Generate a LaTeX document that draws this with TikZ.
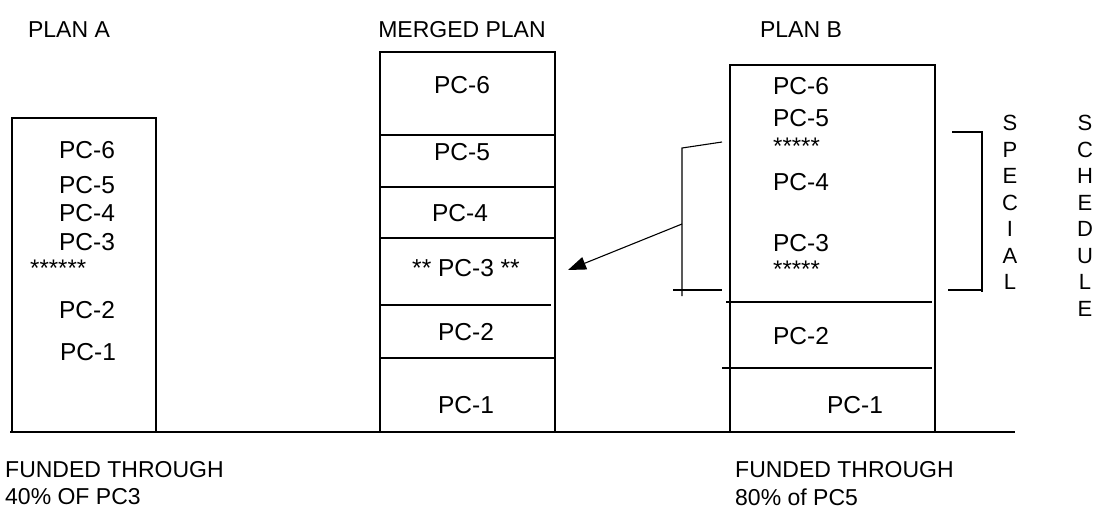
\documentclass[tikz,border=0pt]{standalone}
\usepackage{fontspec}
\setmainfont{Liberation Sans}
\usetikzlibrary{arrows.meta,positioning}

\begin{document}
\begin{tikzpicture}[
x=1pt, y=-1pt,
lbl/.style={font=\fontsize{24.5}{28}\selectfont, inner sep=0pt},
note/.style={font=\fontsize{23}{27}\selectfont, inner sep=0pt, anchor=west},
stars/.style={font=\fontsize{24}{27}\selectfont, inner sep=0pt, anchor=north west},
vert/.style={font=\fontsize{22}{26.5}\selectfont, inner sep=0pt, align=center, anchor=north},
frame/.style={line width=1.1pt},
arrow/.style={-{Triangle[length=18pt,width=13pt]}, line width=1.1pt}
]
\useasboundingbox (0,0) rectangle (1100,515);

% titles
\node[note, anchor=center] (titleA) at (69,30) {PLAN A};
\node[note, anchor=center] (titleM) at (462,30) {MERGED PLAN};
\node[note, anchor=center] (titleB) at (801,30) {PLAN B};

% ground line
\draw[frame] (10,432) -- (1015,432);

% plan A
\draw[frame] (12,432) -- (12,118) -- (156,118) -- (156,432);
\node[lbl] (a6) at (87,150) {PC-6};
\node[lbl] (a5) at (87,185) {PC-5};
\node[lbl] (a4) at (87,213) {PC-4};
\node[lbl] (a3) at (87,242) {PC-3};
\node[stars] (astar) at (30,260) {******};
\node[lbl] (a2) at (87,310) {PC-2};
\node[lbl] (a1) at (88,352) {PC-1};

% merged plan
\draw[frame] (380,432) -- (380,52) -- (555,52) -- (555,432);
\draw[frame] (380,135) -- (555,135);
\draw[frame] (380,187) -- (555,187);
\draw[frame] (380,238) -- (555,238);
\draw[frame] (380,305) -- (551,305);
\draw[frame] (380,358) -- (555,358);
\node[lbl] (m6) at (462,85) {PC-6};
\node[lbl] (m5) at (462,152) {PC-5};
\node[lbl] (m4) at (460,213) {PC-4};
\node[lbl] (m3) at (466,268) {** PC-3 **};
\node[lbl] (m2) at (466,332) {PC-2};
\node[lbl] (m1) at (466,405) {PC-1};

% plan B
\draw[frame] (730,432) -- (730,65) -- (935,65) -- (935,432);
\draw[frame] (726,302) -- (932,302);
\draw[frame] (722,368) -- (932,368);
\node[lbl] (b6) at (801,86) {PC-6};
\node[lbl] (b5) at (801,118) {PC-5};
\node[stars] (bstar1) at (773,138) {*****};
\node[lbl] (b4) at (801,182) {PC-4};
\node[lbl] (b3) at (801,243) {PC-3};
\node[stars] (bstar2) at (773,261) {*****};
\node[lbl] (b2) at (801,336) {PC-2};
\node[lbl] (b1) at (855,405) {PC-1};

% brackets
\draw[frame] (722,142) -- (682,148) -- (682,296);
\draw[frame] (673,290) -- (722,290);
\draw[frame] (952,132) -- (982,132) -- (982,292);
\draw[frame] (948,290) -- (982,290);
\coordinate (brk) at (682,224);
\coordinate (tip) at (568,270);
\draw[arrow] (brk) -- (tip);

% side labels
\node[vert] (special) at (1010,115) {S\\P\\E\\C\\I\\A\\L};
\node[vert] (schedule) at (1085,115) {S\\C\\H\\E\\D\\U\\L\\E};

% notes
\node[note] (noteA1) at (5,470) {FUNDED THROUGH};
\node[note] (noteA2) at (5,497) {40\% OF PC3};
\node[note] (noteB1) at (735,470) {FUNDED THROUGH};
\node[note] (noteB2) at (735,497) {80\% of PC5};
\end{tikzpicture}
\end{document}
